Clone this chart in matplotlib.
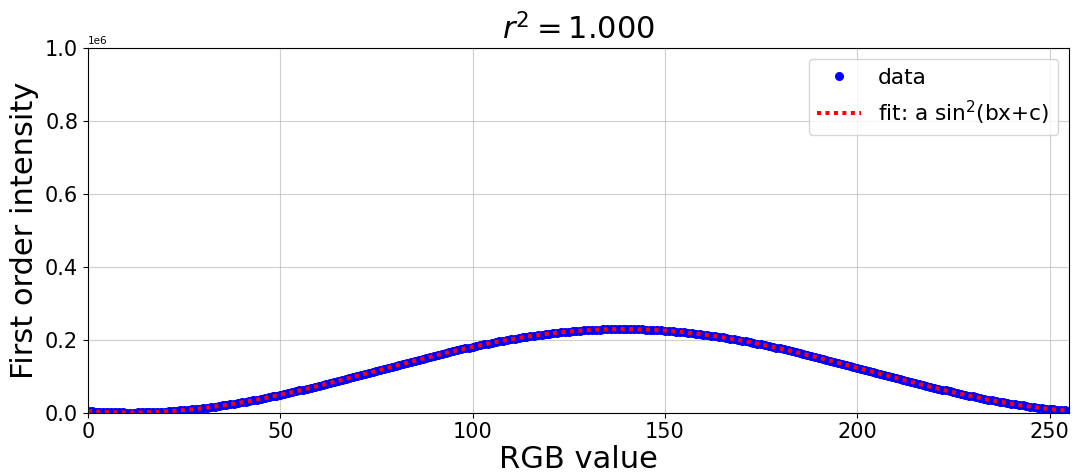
import numpy as np
import matplotlib
matplotlib.use("Agg")
import matplotlib.pyplot as plt

# first order intensity per RGB value, in units of 1e3
rgb = np.arange(256)
intensity_k = [
    4.2, 3.4, 2.8, 2.2, 1.7, 1.2, 0.9, 0.6, 0.3, 0.1,
    0.0, 0.0, 0.0, 0.1, 0.3, 0.6, 0.9, 1.2, 1.7, 2.2,
    2.8, 3.4, 4.2, 4.9, 5.8, 6.7, 7.7, 8.7, 9.8, 11.0,
    12.2, 13.5, 14.9, 16.3, 17.8, 19.3, 20.9, 22.5, 24.2, 26.0,
    27.8, 29.7, 31.6, 33.5, 35.6, 37.6, 39.7, 41.9, 44.1, 46.3,
    48.6, 50.9, 53.2, 55.6, 58.1, 60.5, 63.0, 65.5, 68.1, 70.7,
    73.3, 75.9, 78.6, 81.3, 84.0, 86.7, 89.4, 92.2, 94.9, 97.7,
    100.5, 103.3, 106.1, 108.9, 111.7, 114.5, 117.3, 120.1, 122.9, 125.7,
    128.5, 131.3, 134.1, 136.8, 139.6, 142.3, 145.0, 147.7, 150.4, 153.1,
    155.7, 158.3, 160.9, 163.5, 166.0, 168.5, 170.9, 173.4, 175.8, 178.1,
    180.4, 182.7, 184.9, 187.1, 189.3, 191.4, 193.5, 195.5, 197.4, 199.3,
    201.2, 203.0, 204.8, 206.5, 208.1, 209.7, 211.2, 212.7, 214.1, 215.5,
    216.8, 218.0, 219.2, 220.3, 221.3, 222.3, 223.2, 224.1, 224.9, 225.6,
    226.2, 226.8, 227.3, 227.8, 228.1, 228.5, 228.7, 228.9, 229.0, 229.0,
    229.0, 228.9, 228.7, 228.5, 228.1, 227.8, 227.3, 226.8, 226.2, 225.6,
    224.9, 224.1, 223.2, 222.3, 221.3, 220.3, 219.2, 218.0, 216.8, 215.5,
    214.1, 212.7, 211.2, 209.7, 208.1, 206.5, 204.8, 203.0, 201.2, 199.3,
    197.4, 195.5, 193.5, 191.4, 189.3, 187.1, 184.9, 182.7, 180.4, 178.1,
    175.8, 173.4, 170.9, 168.5, 166.0, 163.5, 160.9, 158.3, 155.7, 153.1,
    150.4, 147.7, 145.0, 142.3, 139.6, 136.8, 134.1, 131.3, 128.5, 125.7,
    122.9, 120.1, 117.3, 114.5, 111.7, 108.9, 106.1, 103.3, 100.5, 97.7,
    94.9, 92.2, 89.4, 86.7, 84.0, 81.3, 78.6, 75.9, 73.3, 70.7,
    68.1, 65.5, 63.0, 60.5, 58.1, 55.6, 53.2, 50.9, 48.6, 46.3,
    44.1, 41.9, 39.7, 37.6, 35.6, 33.5, 31.6, 29.7, 27.8, 26.0,
    24.2, 22.5, 20.9, 19.3, 17.8, 16.3, 14.9, 13.5, 12.2, 11.0,
    9.8, 8.7, 7.7, 6.7, 5.8, 4.9,
]
intensity = np.array(intensity_k) * 1e3

# fit parameters for a*sin^2(b*x + c)
fit_a = 229.0e3
fit_b = np.pi / 256
fit_c = -0.135
r_squared = 1.000

fig, ax = plt.subplots(figsize=(10.72, 4.72), dpi=100)
fig.subplots_adjust(left=0.082, right=0.997, top=0.898, bottom=0.126)

ax.plot(rgb, intensity, "bo", markersize=5.5, label="data")
ax.plot(rgb, fit_a * np.sin(fit_b * rgb + fit_c) ** 2, color="red",
        linestyle=(0, (1, 1.1)), linewidth=2.9,
        label="fit: a sin$^2$(bx+c)")

ax.set_xlim(0, 255)
ax.set_ylim(0, 1e6)
ax.set_xlabel("RGB value", fontsize=22, labelpad=2)
ax.set_ylabel("First order intensity", fontsize=22)
ax.set_title("$r^2 = %.3f$" % r_squared, fontsize=22)
ax.tick_params(labelsize=15)
ax.yaxis.get_offset_text().set_fontsize(7.5)
ax.grid(True, alpha=0.6)
ax.legend(fontsize=15.6, loc="upper right")

fig.savefig("out.png", dpi=100)
